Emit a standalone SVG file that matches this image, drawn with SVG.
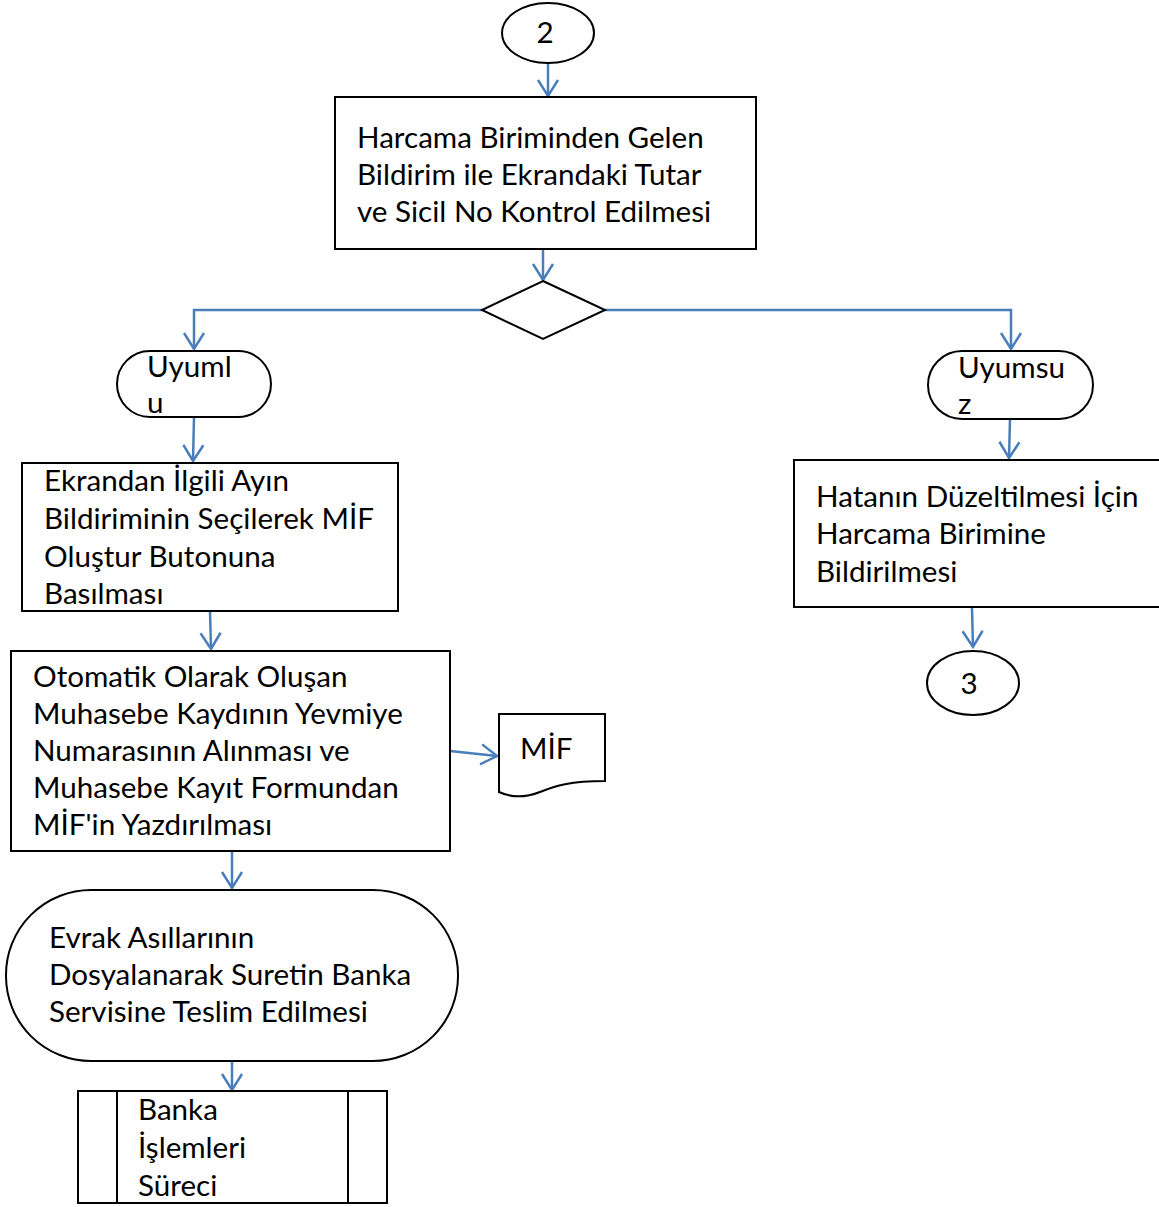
<svg xmlns="http://www.w3.org/2000/svg" width="1159" height="1207" viewBox="0 0 1159 1207">
<defs>
<style>
.s{fill:#fff;stroke:#000;stroke-width:2}
.t{font-family:Lato,"Open Sans","Liberation Sans",sans-serif;font-size:29.6px;fill:#000}
.c{fill:none;stroke:#4a7ebb;stroke-width:2.5}
</style>
<marker id="a" viewBox="0 0 24 24" refX="21" refY="12" markerWidth="24" markerHeight="24" markerUnits="userSpaceOnUse" orient="auto">
<path d="M5 2 L21 12 L5 22" fill="none" stroke="#4a7ebb" stroke-width="2.5"/>
</marker>
</defs>
<rect width="1159" height="1207" fill="#fff"/>
<g id="connectors">
<path class="c" d="M548 63 L548 96" marker-end="url(#a)"/>
<path class="c" d="M543 249 L543 280" marker-end="url(#a)"/>
<path class="c" d="M482 310 L194 310 L194 349" marker-end="url(#a)"/>
<path class="c" d="M605 310 L1011 310 L1011 349" marker-end="url(#a)"/>
<path class="c" d="M194 417 L193 461" marker-end="url(#a)"/>
<path class="c" d="M1010 419 L1009 458" marker-end="url(#a)"/>
<path class="c" d="M210 611 L211 649" marker-end="url(#a)"/>
<path class="c" d="M972 608 L973 647" marker-end="url(#a)"/>
<path class="c" d="M450 751 L497 756" marker-end="url(#a)"/>
<path class="c" d="M232 851 L232 888" marker-end="url(#a)"/>
<path class="c" d="M232 1061 L232 1090" marker-end="url(#a)"/>
</g>
<g id="n2">
<ellipse class="s" cx="548" cy="33" rx="46" ry="30"/>
<text class="t" x="545" y="43" text-anchor="middle">2</text>
</g>
<g id="n_kontrol">
<rect class="s" x="335" y="97" width="421" height="152"/>
<text class="t"><tspan x="357" y="148">Harcama Biriminden Gelen</tspan><tspan x="357" y="185">Bildirim ile Ekrandaki Tutar</tspan><tspan x="357" y="222">ve Sicil No Kontrol Edilmesi</tspan></text>
</g>
<g id="n_karar">
<path class="s" d="M543 281 L605 310 L543 339 L482 310 Z"/>
</g>
<g id="n_uyumlu">
<rect class="s" x="117" y="351" width="154" height="66" rx="33" ry="33"/>
<text class="t"><tspan x="147" y="377">Uyuml</tspan><tspan x="147" y="413">u</tspan></text>
</g>
<g id="n_uyumsuz">
<rect class="s" x="928" y="351" width="165" height="68" rx="34" ry="34"/>
<text class="t"><tspan x="958" y="378">Uyumsu</tspan><tspan x="958" y="414">z</tspan></text>
</g>
<g id="n_ekrandan">
<rect class="s" x="22" y="463" width="376" height="148"/>
<text class="t"><tspan x="44" y="491">Ekrandan İlgili Ayın</tspan><tspan x="44" y="529">Bildiriminin Seçilerek MİF</tspan><tspan x="44" y="567">Oluştur Butonuna</tspan><tspan x="44" y="604">Basılması</tspan></text>
</g>
<g id="n_hata">
<rect class="s" x="794" y="460" width="366" height="147"/>
<text class="t"><tspan x="816" y="507">Hatanın Düzeltilmesi İçin</tspan><tspan x="816" y="544">Harcama Birimine</tspan><tspan x="816" y="582">Bildirilmesi</tspan></text>
</g>
<g id="n3">
<ellipse class="s" cx="973" cy="683" rx="46" ry="32"/>
<text class="t" x="969" y="694" text-anchor="middle">3</text>
</g>
<g id="n_otomatik">
<rect class="s" x="11" y="651" width="439" height="200"/>
<text class="t"><tspan x="33" y="687">Otomatik Olarak Oluşan</tspan><tspan x="33" y="724">Muhasebe Kaydının Yevmiye</tspan><tspan x="33" y="761">Numarasının Alınması ve</tspan><tspan x="33" y="798">Muhasebe Kayıt Formundan</tspan><tspan x="33" y="835">MİF'in Yazdırılması</tspan></text>
</g>
<g id="n_mif">
<path class="s" d="M499 714 L605 714 L605 781 C570 781 555 786 540 792 C525 798 510 797 499 792 Z"/>
<text class="t" x="520" y="759">MİF</text>
</g>
<g id="n_evrak">
<rect class="s" x="6" y="890" width="452" height="171" rx="85" ry="85"/>
<text class="t"><tspan x="49" y="948">Evrak Asıllarının</tspan><tspan x="49" y="985">Dosyalanarak Suretin Banka</tspan><tspan x="49" y="1022">Servisine Teslim Edilmesi</tspan></text>
</g>
<g id="n_banka">
<rect class="s" x="78" y="1091" width="309" height="112"/>
<line class="s" x1="117" y1="1091" x2="117" y2="1203"/>
<line class="s" x1="348" y1="1091" x2="348" y2="1203"/>
<text class="t"><tspan x="138" y="1120">Banka</tspan><tspan x="138" y="1158">İşlemleri</tspan><tspan x="138" y="1196">Süreci</tspan></text>
</g>
</svg>
